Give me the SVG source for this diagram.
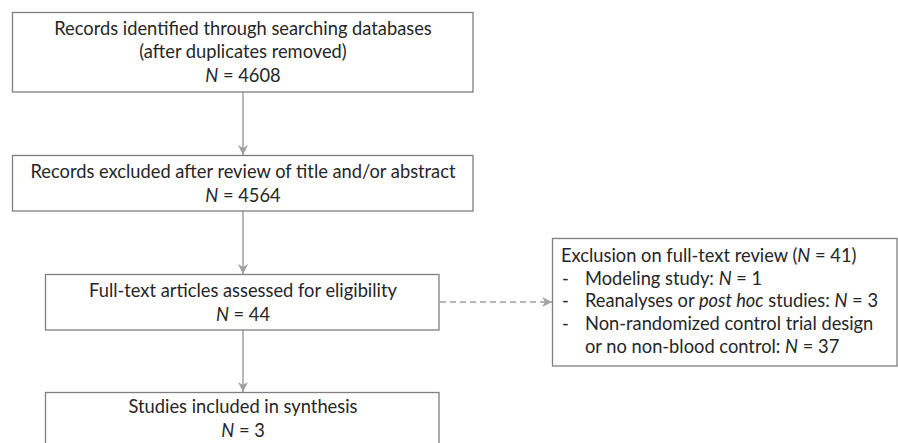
<svg xmlns="http://www.w3.org/2000/svg" width="898" height="443" viewBox="0 0 898 443">
<defs>
<style>
.box{fill:#fff;stroke:#7f7f7f;stroke-width:1.3}
.t{font-family:Lato,"Open Sans",sans-serif;font-size:18.3px;fill:#262626}
.c{text-anchor:middle}
.i{font-style:italic}
.con{stroke:#a0a0a0;stroke-width:1.5;fill:none}
.dash{stroke-dasharray:6 4}
</style>
<marker id="ah" viewBox="0 0 10 10" refX="10" refY="5" markerWidth="10" markerHeight="10" markerUnits="userSpaceOnUse" orient="auto">
<path d="M0,0 L10,5 L0,10 L3,5 z" fill="#a0a0a0"/>
</marker>
</defs>
<rect width="898" height="443" fill="#fff"/>
<g id="connectors">
<line class="con" x1="243" y1="92" x2="243" y2="155" marker-end="url(#ah)"/>
<line class="con" x1="243" y1="211" x2="243" y2="274" marker-end="url(#ah)"/>
<line class="con" x1="243" y1="330" x2="243" y2="392" marker-end="url(#ah)"/>
<line class="con dash" x1="440" y1="302" x2="552" y2="302" marker-end="url(#ah)"/>
</g>
<g id="n1">
<rect class="box" x="12.5" y="12.5" width="460.5" height="79.5"/>
<text class="t c" x="243" y="35">Records identified through searching databases</text>
<text class="t c" x="243" y="58">(after duplicates removed)</text>
<text class="t c" x="243" y="82"><tspan class="i">N</tspan> = 4608</text>
</g>
<g id="n2">
<rect class="box" x="12.5" y="155.5" width="460.5" height="55.5"/>
<text class="t c" x="243" y="178">Records excluded after review of title and/or abstract</text>
<text class="t c" x="243" y="202"><tspan class="i">N</tspan> = 4564</text>
</g>
<g id="n3">
<rect class="box" x="45.5" y="274.5" width="393.5" height="55.5"/>
<text class="t c" x="243" y="297">Full-text articles assessed for eligibility</text>
<text class="t c" x="243" y="321"><tspan class="i">N</tspan> = 44</text>
</g>
<g id="n4">
<rect class="box" x="45.5" y="392.5" width="393.5" height="60"/>
<text class="t c" x="243" y="413">Studies included in synthesis</text>
<text class="t c" x="243" y="437"><tspan class="i">N</tspan> = 3</text>
</g>
<g id="n5">
<rect class="box" x="552.5" y="238.5" width="344.5" height="127.5"/>
<text class="t" x="561" y="262">Exclusion on full-text review (<tspan class="i">N</tspan> = 41)</text>
<text class="t" x="562" y="285">-</text>
<text class="t" x="585" y="285">Modeling study: <tspan class="i">N</tspan> = 1</text>
<text class="t" x="562" y="307">-</text>
<text class="t" x="585" y="307">Reanalyses or <tspan class="i">post hoc</tspan> studies: <tspan class="i">N</tspan> = 3</text>
<text class="t" x="562" y="330">-</text>
<text class="t" x="585" y="330">Non-randomized control trial design</text>
<text class="t" x="585" y="353">or no non-blood control: <tspan class="i">N</tspan> = 37</text>
</g>
</svg>
